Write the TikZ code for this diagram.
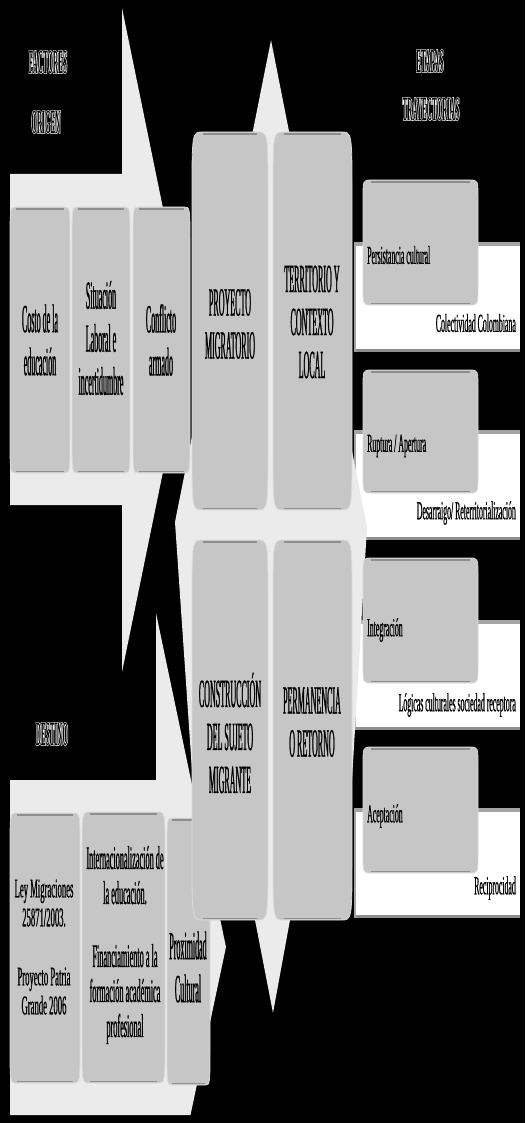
\documentclass[tikz,border=0pt]{standalone}
\usepackage{fontspec}
\setmainfont{Liberation Serif}
\newfontfamily\fontA{Liberation Serif}[FakeStretch=0.20, FakeBold=0.6]
\newfontfamily\fontB{Liberation Serif}[FakeStretch=0.32, FakeBold=0.6]
\newfontfamily\fontI{Liberation Serif}[FakeStretch=0.25, FakeBold=0.6]
\newfontfamily\fontC{Liberation Serif}[FakeStretch=0.30, FakeBold=0.6]
\newfontfamily\fontH{Liberation Serif Bold}[FakeStretch=0.21]
\newfontfamily\fontHW{Liberation Serif Bold}[FakeStretch=0.21, FakeBold=3]
\definecolor{arrowgray}{HTML}{EBEBEB}
\definecolor{boxgray}{HTML}{C6C6C6}
\definecolor{boxedge}{HTML}{DADADA}
\definecolor{bevdark}{HTML}{8E8E8E}
\definecolor{bargray}{HTML}{A4A4A4}
\newcommand\outl[1]{\rlap{\fontHW\color{white}#1}{\fontH\color{black}#1}}
\newcommand\gbox[6]{%
  \filldraw[fill=boxgray, draw=boxedge, line width=0.8pt] (#1+#5,#2) -- (#3-#5,#2) .. controls (#3,#2) .. (#3,#2+#6) -- (#3,#4-#6) .. controls (#3,#4) .. (#3-#5,#4) -- (#1+#5,#4) .. controls (#1,#4) .. (#1,#4-#6) -- (#1,#2+#6) .. controls (#1,#2) .. (#1+#5,#2) -- cycle;
  \draw[bevdark, line width=1.6pt] (#1+#5,#2+1.8) -- (#3-#5,#2+1.8);
  \draw[bevdark, line width=1.6pt] (#1+#5,#4-1.4) -- (#3-#5,#4-1.4);
}
\newcommand\wrect[2]{%
  \fill[white] (354,#1) rectangle (520,#2);
  \fill[bargray] (354,#1) rectangle (520,#1+3.5);
  \fill[bevdark] (354,#2-3.5) rectangle (520,#2);
  \fill[bargray] (354,#1) rectangle (355.5,#2);
}
\begin{document}
\begin{tikzpicture}[x=1pt,y=-1pt,
  hdr/.style={inner sep=0pt, font=\fontsize{34}{36}\selectfont},
  ctext/.style={align=center, inner sep=0pt, text=black, font=\fontA\fontsize{40}{43}\selectfont},
  btext/.style={align=center, inner sep=0pt, text=black, font=\fontB\fontsize{27}{29}\selectfont},
  itext/.style={align=center, inner sep=0pt, text=black, font=\fontI\fontsize{33}{35}\selectfont},
  rtext/.style={inner sep=0pt, text=black, font=\fontC\fontsize{26}{28}\selectfont}]
\useasboundingbox (0,0) rectangle (525,1123);
\fill[black] (0,0) rectangle (525,1123);
% headers
\node[hdr] (h1) at (48,62) {\outl{FACTORES}};
\node[hdr] (h2) at (46,122) {\outl{ORIGEN}};
\node[hdr] (h3) at (430,61) {\outl{ETAPAS}};
\node[hdr] (h4) at (431,109) {\outl{TRAYECTORIAS}};
\node[hdr] (h5) at (52,734) {\outl{DESTINO}};
% big arrows
\fill[arrowgray] (10,174) -- (122,174) -- (122,8) -- (190,340) -- (122,672) -- (122,505) -- (10,505) -- cycle;
\fill[arrowgray] (10,780) -- (156,780) -- (156,613) -- (226,947) -- (190.5,1115) -- (10,1115) -- cycle;
% white rects right
\wrect{242}{352}
\wrect{430}{540}
\wrect{620}{730}
\wrect{808}{918}
% central shape
\fill[arrowgray] (271,40) -- (367,527) -- (352,780) -- (290,920) -- (273,1013) -- (255,920) -- (193,785) -- (175,522) -- cycle;
% left boxes
\gbox{10}{207}{70}{473}{6}{40}
\gbox{72}{207}{130}{473}{6}{40}
\gbox{133}{207}{190}{473}{6}{40}
\gbox{10}{813}{80}{1083}{7}{40}
\gbox{82}{812}{165}{1083}{8}{40}
\gbox{167}{818}{210}{1085}{5}{40}
% center boxes
\gbox{192}{132}{268}{510}{11}{65}
\gbox{273}{132}{352}{510}{11}{65}
\gbox{192}{540}{268}{920}{11}{65}
\gbox{273}{540}{352}{920}{11}{65}
% right boxes
\gbox{363}{180}{478}{305}{8}{20}
\gbox{363}{370}{478}{493}{8}{20}
\gbox{363}{558}{478}{683}{8}{20}
\gbox{363}{747}{478}{873}{8}{20}
% texts
\node[ctext] (t1) at (40,340) {Costo de la\\educación};
\node[ctext] (t2) at (101,338) {Situación\\Laboral e\\incertidumbre};
\node[ctext] (t3) at (161,340) {Conflicto\\armado};
\node[ctext] (c1) at (230,324) {PROYECTO\\MIGRATORIO};
\node[ctext] (c2) at (312,322) {TERRITORIO Y\\CONTEXTO\\LOCAL};
\node[ctext] (c3) at (230,733) {CONSTRUCCIÓN\\DEL SUJETO\\MIGRANTE};
\node[ctext] (c4) at (312,722) {PERMANENCIA\\O RETORNO};
\node[btext] (b1) at (44,947) {Ley Migraciones\\25871/2003.\\[30pt]Proyecto Patria\\Grande 2006};
\node[itext] (b2) at (125,945) {Internacionalización de\\la educación.\\[28pt]Financiamiento a la\\formación académica\\profesional};
\node[ctext] (b3) at (188,967) {Proximidad\\Cultural};
% right texts
\node[rtext, anchor=west] (r1) at (367,255) {Persistancia cultural};
\node[rtext, anchor=west] (r2) at (367,446) {Ruptura / Apertura};
\node[rtext, anchor=west] (r3) at (367,630) {Integración};
\node[rtext, anchor=west] (r4) at (367,816) {Aceptación};
\node[rtext, anchor=east] (s1) at (516,323) {Colectividad Colombiana};
\node[rtext, anchor=east] (s2) at (516,513) {Desarraigo/ Reterritorialización};
\node[rtext, anchor=east] (s3) at (516,705) {Lógicas culturales sociedad receptora};
\node[rtext, anchor=east] (s4) at (516,888) {Reciprocidad};
\end{tikzpicture}
\end{document}
